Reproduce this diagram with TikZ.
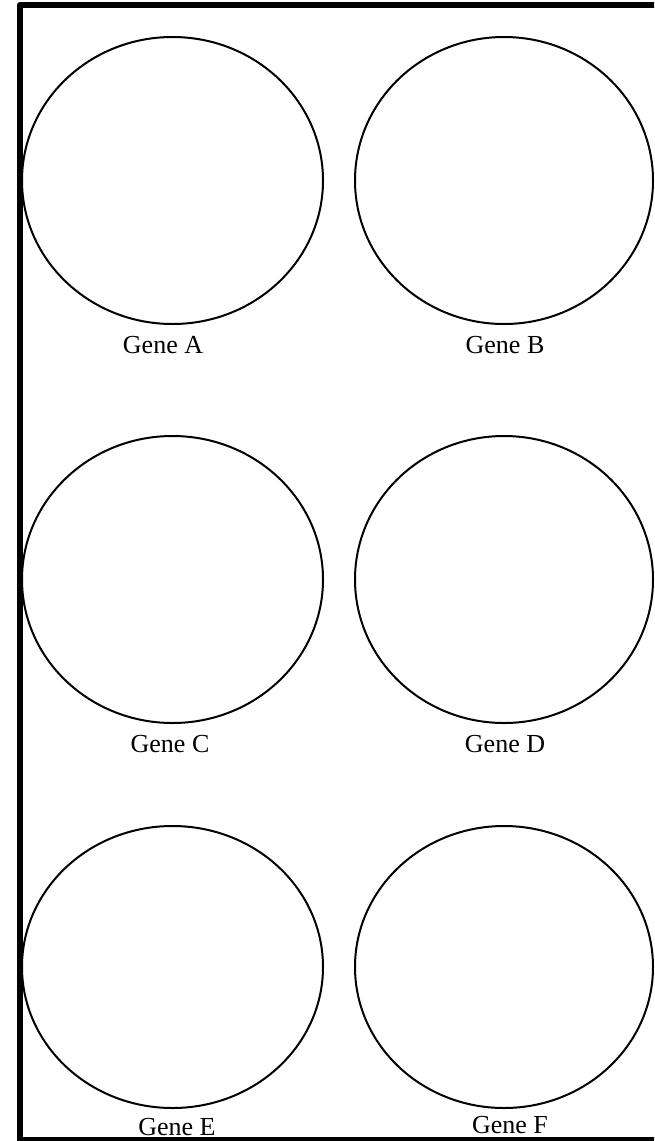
\documentclass[tikz,border=0pt]{standalone}
\usepackage{fontspec}
\setmainfont{Liberation Serif}

\begin{document}
\begin{tikzpicture}[x=1pt, y=-1pt, line join=round]
    \tikzset{
        genecircle/.style={line width=2pt},
        genelabel/.style={font=\fontsize{26}{30}\selectfont, anchor=base, inner sep=0pt},
    }
    \useasboundingbox (0,0) rectangle (654,1141);
    \clip (0,0) rectangle (654,1141);

    % Outer frame (right side falls off the page)
    \draw[line width=6.5pt] (20,5) rectangle (664,1140);

    % Gene circles and their labels
    \foreach \cx/\cy/\rx/\ry/\lx/\ly/\gene in {
        172.5/180.5/150.5/143.5/163/353/A,
        504/180.5/149/143.5/505/353/B,
        172.5/579.5/150.5/143.5/170/752/C,
        504/579.5/149/143.5/505/752/D,
        172.5/967/150.5/141/177/1135/E,
        504/967/149/141/510/1133/F}{
        \draw[genecircle] (\cx,\cy) ellipse [x radius=\rx pt, y radius=\ry pt];
        \node[genelabel] (label\gene) at (\lx,\ly) {Gene \gene};
    }
\end{tikzpicture}
\end{document}
